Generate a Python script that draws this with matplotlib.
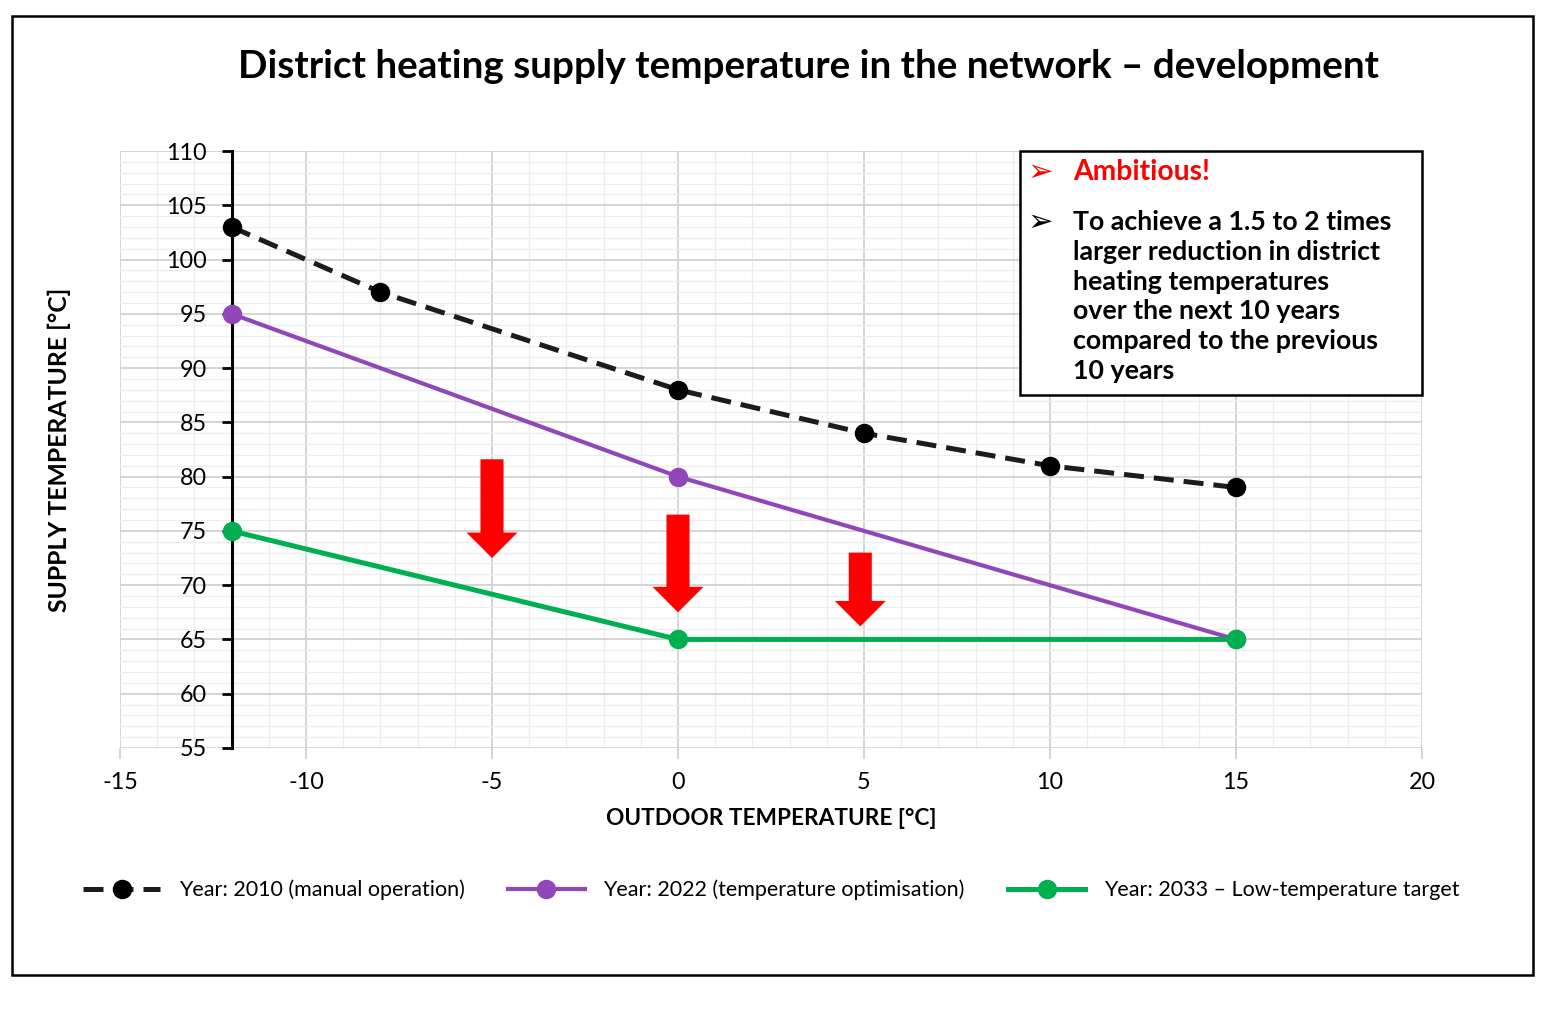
import matplotlib
matplotlib.use("Agg")
import matplotlib.pyplot as plt
from matplotlib.ticker import MultipleLocator
from matplotlib.patches import FancyArrow, Rectangle

plt.rcParams['font.family'] = ['Lato', 'DejaVu Sans']

# ---- data ----
x_2010 = [-12, -8, 0, 5, 10, 15]
y_2010 = [103, 97, 88, 84, 81, 79]
x_2022 = [-12, 0, 15]
y_2022 = [95, 80, 65]
x_2033 = [-12, 0, 15]
y_2033 = [75, 65, 65]
labels = ["Year: 2010 (manual operation)",
          "Year: 2022 (temperature optimisation)",
          "Year: 2033 – Low-temperature target"]
x_ticks = [-15, -10, -5, 0, 5, 10, 15, 20]
y_ticks = [55, 60, 65, 70, 75, 80, 85, 90, 95, 100, 105, 110]
# red downward arrows: x position, start (top) and end (tip) temperature
arrow_x = [-5, 0, 4.9]
arrow_top = [81.6, 76.5, 73.0]
arrow_tip = [72.5, 67.5, 66.2]

title = "District heating supply temperature in the network – development"
box_lines = ["To achieve a 1.5 to 2 times", "larger reduction in district",
             "heating temperatures", "over the next 10 years",
             "compared to the previous", "10 years"]

fig = plt.figure(figsize=(15.46, 10.17), dpi=100)
ax = fig.add_axes([120/1546, 1-748/1017, 1302/1546, 597/1017])

ax.set_xlim(x_ticks[0], x_ticks[-1])
ax.set_ylim(y_ticks[0], y_ticks[-1])
ax.set_xticks(x_ticks)
ax.set_yticks(y_ticks)
ax.xaxis.set_minor_locator(MultipleLocator(1))
ax.yaxis.set_minor_locator(MultipleLocator(1))
ax.grid(which='major', color='#d2d2d2', lw=1.3)
ax.grid(which='minor', color='#ededed', lw=0.9)
ax.set_axisbelow(True)

for s in ['top', 'right', 'bottom']:
    ax.spines[s].set_visible(False)
ax.spines['left'].set_position(('data', -12))
ax.spines['left'].set_linewidth(2.2)
ax.spines['left'].set_zorder(1.5)

ax.tick_params(axis='y', which='major', length=7, width=2, color='black',
               labelsize=16.8, pad=11)
ax.tick_params(axis='x', which='major', length=8, width=1.3, color='#d2d2d2',
               labelsize=16.8, pad=9)
ax.tick_params(which='minor', length=0)
ax.set_xticklabels([str(v) for v in x_ticks])
ax.set_yticklabels([str(v) for v in y_ticks])

ax.plot(x_2010, y_2010, color='#1c1c1c', lw=3.6, dashes=(4, 2),
        marker='o', ms=13, mfc='black', mec='black', label=labels[0], zorder=3)
ax.plot(x_2022, y_2022, color='#9146B9', lw=3.0,
        marker='o', ms=13, label=labels[1], zorder=4)
ax.plot(x_2033, y_2033, color='#00B050', lw=3.6,
        marker='o', ms=13, label=labels[2], zorder=5)

for xa, yt, yb in zip(arrow_x, arrow_top, arrow_tip):
    ax.add_patch(FancyArrow(xa, yt, 0, yb - yt, width=0.62, head_width=1.37,
                            head_length=2.35, length_includes_head=True,
                            color='#FF0000', lw=0, zorder=6))

ax.set_xlabel("OUTDOOR TEMPERATURE [°C]", fontsize=16.3, fontweight='bold')
ax.set_ylabel("SUPPLY TEMPERATURE [°C]", fontsize=17.8, fontweight='bold')
ax.xaxis.set_label_coords(0.5, -0.101)
ax.yaxis.set_label_coords(-0.038, 0.5)

fig.text(808/1546, 1-66/1017, title, fontsize=27.8, fontweight='bold',
         ha='center', va='center')

# text box
bx0 = (1020-120)/1302
by0 = (748-395)/597
ax.add_patch(Rectangle((bx0, by0), 1-bx0, 1.0-by0, transform=ax.transAxes,
                       facecolor='white', edgecolor='black', lw=1.8, zorder=7,
                       clip_on=False))
arrow_fam = ['DejaVu Sans']
fig.text(1040/1546, 1-172/1017, "➢", color='#FF0000', fontsize=22,
         ha='center', va='center', family=arrow_fam, zorder=8)
fig.text(1073/1546, 1-172/1017, "Ambitious!", color='#FF0000', fontsize=20.3,
         fontweight='bold', ha='left', va='center', zorder=8)
fig.text(1040/1546, 1-222/1017, "➢", color='black', fontsize=22,
         ha='center', va='center', family=arrow_fam, zorder=8)
for i, line in enumerate(box_lines):
    fig.text(1073/1546, 1-(222+29.8*i)/1017, line, color='black', fontsize=19.3,
             fontweight='bold', ha='left', va='center', zorder=8)

fig.legend(loc='center', bbox_to_anchor=(771/1546, 1-890/1017), ncol=3,
           frameon=False, fontsize=15.5, handlelength=3.6, handletextpad=0.85,
           columnspacing=2.0)

fig.add_artist(Rectangle((12/1546, 1-975/1017), 1521/1546, 959/1017,
                         transform=fig.transFigure, fill=False,
                         edgecolor='black', lw=1.8))

fig.savefig("out.png", dpi=100, facecolor='white')
